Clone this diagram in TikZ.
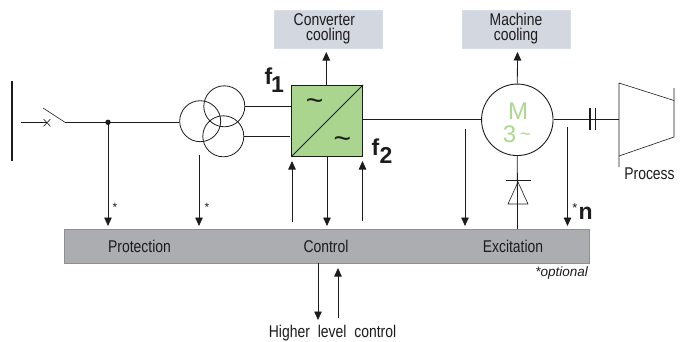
\documentclass[tikz,border=0pt]{standalone}
\usepackage{fontspec}
\setmainfont[FakeStretch=0.82]{Liberation Sans}
\newfontfamily\plainsans{Liberation Sans}
\usetikzlibrary{arrows.meta}
\definecolor{boxgrey}{HTML}{ABADB1}
\definecolor{boxedge}{HTML}{8E9094}
\definecolor{coolgrey}{HTML}{D2D7E0}
\definecolor{convgreen}{HTML}{A9D58F}
\definecolor{motorgreen}{HTML}{ABD892}
\definecolor{ink}{HTML}{1C1C1C}
\tikzset{
  x=1pt,y=-1pt,
  wire/.style={draw=ink,line width=0.8pt},
  sig/.style={wire,-{Triangle[width=7.5pt,length=8.5pt]}},
  txtlabel/.style={text=ink,font=\fontsize{17}{17}\selectfont,inner sep=0pt},
  big/.style={text=ink,font=\plainsans\bfseries\fontsize{23}{23}\selectfont,inner sep=0pt},
  star/.style={text=ink,font=\plainsans\fontsize{12}{12}\selectfont,inner sep=0pt},
  tilde/.style={text=ink,font=\plainsans\fontsize{30}{30}\selectfont,inner sep=0pt},
  coolbox/.style={draw=coolgrey!85!white,fill=coolgrey,line width=0.5pt,minimum height=38pt,inner sep=0pt,align=center,text=ink,
     font=\fontsize{17}{15}\selectfont},
  trafo/.style={circle,draw=ink,line width=0.8pt,minimum size=41pt,inner sep=0pt},
}
\begin{document}
\begin{tikzpicture}
\useasboundingbox (0,0) rectangle (681,341);
% named points
\coordinate (busT) at (12,81);
\coordinate (busB) at (12,161);
\coordinate (feedIn) at (21,122.3);
\coordinate (swA) at (47,122.3);
\coordinate (bladeT) at (43,108);
\coordinate (swB) at (65,122.3);
\coordinate (cr1) at (43.5,119);
\coordinate (cr2) at (50.5,126.5);
\coordinate (cr3) at (43.5,126.5);
\coordinate (cr4) at (50.5,119);
\coordinate (tap) at (108,122.3);
\coordinate (tapEnd) at (108,226);
\coordinate (t2S) at (199,155);
\coordinate (t2E) at (199,226);
% bars and boxes
\node[draw=boxedge,fill=boxgrey,line width=1pt,minimum width=525pt,minimum height=34pt,inner sep=0pt] (bar) at (326.5,246) {};
\node[coolbox,minimum width=108pt] (cc) at (328.3,29) {Converter\hspace*{8pt}\\cooling};
\node[coolbox,minimum width=108pt] (mc) at (516,29) {Machine\\cooling};
\node[draw=ink,fill=convgreen,line width=0.9pt,minimum size=71pt,inner sep=0pt] (conv) at (327.3,120.7) {};
\draw[wire] (conv.south west) -- (conv.north east);
\node[tilde] (t1) at (314.7,105) {\char"7E};
\node[tilde] (t2) at (342.5,143) {\char"7E};
% motor
\node[circle,draw=ink,line width=0.9pt,minimum size=71.5pt,inner sep=0pt,fill=white] (mot) at (517.3,119.8) {};
\node[text=motorgreen,font=\plainsans\fontsize{24}{24}\selectfont,inner sep=0pt] (mM) at (518,111.5) {M};
\node[text=motorgreen,font=\plainsans\fontsize{24}{24}\selectfont,inner sep=0pt] (m3) at (509.5,134.5) {3};
\node[text=motorgreen,font=\plainsans\fontsize{19}{19}\selectfont,inner sep=0pt] (mt) at (525.5,137) {\char"7E};
% transformer
\node[trafo] (tl) at (200.2,121.2) {};
\node[trafo] (tt) at (224.3,106.3) {};
\node[trafo] (tb) at (223.3,136.3) {};
% busbar and switch
\draw[draw=ink,line width=1.6pt] (busT) -- (busB);
\draw[wire] (feedIn) -- (swA);
\draw[wire,line width=0.6pt] (cr1) -- (cr2) (cr3) -- (cr4);
\draw[wire,line width=0.6pt] (bladeT) -- (swB);
\draw[wire] (swB) -- (tl.west |- swB);
\fill[ink] (tap) circle (2.7pt);
\draw[sig] (tap) -- (tapEnd);
\draw[sig] (t2S) -- (t2E);
\node[star] (s1) at (115,207.7) {*};
\node[star] (s2) at (207,207.7) {*};
% transformer to converter
\coordinate (c1) at (292,106.3);
\coordinate (c2) at (290,136.3);
\draw[wire] (tt.east) -- (c1);
\draw[wire] (tb.east) -- (c2);
\node[big,anchor=base west] (f1) at (264.5,84) {f};
\node[big,anchor=base west] (f1s) at (271,92) {1};
\node[big,anchor=base west] (f2) at (371.5,155) {f};
\node[big,anchor=base west] (f2s) at (379.5,163) {2};
% converter connections
\coordinate (cutop) at (326.3,52);
\draw[sig] (conv.north -| cutop) -- (cutop);
\coordinate (cu1s) at (292,222);
\coordinate (cu1e) at (292,161);
\coordinate (cds) at (327,157);
\coordinate (cde) at (327,226);
\coordinate (cu2s) at (362.5,221);
\coordinate (cu2e) at (362.5,161);
\draw[sig] (cu1s) -- (cu1e);
\draw[sig] (cds) -- (cde);
\draw[sig] (cu2s) -- (cu2e);
\draw[wire] (mot.west -| conv.east) -- (mot.west);
% motor connections
\coordinate (motop) at (517.5,52);
\draw[sig] (mot.north) -- (motop);
\coordinate (i1s) at (465,129);
\coordinate (i1e) at (465,226);
\coordinate (nS) at (567.5,127);
\coordinate (nE) at (567.5,226);
\draw[sig] (i1s) -- (i1e);
\draw[sig] (nS) -- (nE);
\node[star,font=\plainsans\fontsize{13}{13}\selectfont] (s3) at (575,207.7) {*};
\node[text=ink,font=\plainsans\bfseries\fontsize{23}{23}\selectfont,inner sep=0pt,anchor=base west] (nn) at (578.5,219) {n};
% diode
\coordinate (dBot) at (517.5,229);
\coordinate (dbL) at (506,180);
\coordinate (dbR) at (531,180);
\draw[wire] (mot.south) -- (dBot);
\draw[wire,line width=0.7pt] (dbL) -- (dbR);
\coordinate (dA) at (518,182);
\coordinate (dC) at (508,204);
\coordinate (dD) at (528,204);
\draw[wire,line width=0.6pt] (dA) -- (dC) -- (dD) -- cycle;
% shaft and process
\coordinate (pL) at (619,119.8);
\draw[wire] (mot.east) -- (pL);
\coordinate (ca1) at (590,108);
\coordinate (ca2) at (590,130);
\coordinate (cb1) at (595.5,108);
\coordinate (cb2) at (595.5,130);
\draw[wire,line width=1.2pt] (ca1) -- (ca2) (cb1) -- (cb2);
\coordinate (pa) at (619,83);
\coordinate (pb) at (619,167);
\coordinate (pc) at (674,100.5);
\coordinate (pd) at (674,137);
\coordinate (pe) at (619,156);
\coordinate (pf) at (674,88);
\draw[wire,line width=0.6pt] (pb) -- (pa) -- (pc);
\draw[wire,line width=0.6pt] (pf) -- (pd) -- (pe);
\node[txtlabel] (proc) at (649.5,174) {Process};
% bar labels
\node[txtlabel] (prot) at (139.5,246) {Protection};
\node[txtlabel] (ctrl) at (326,246) {Control};
\node[txtlabel] (exc) at (513,246) {Excitation};
\node[text=ink,font=\plainsans\itshape\fontsize{13.5}{13.5}\selectfont,inner sep=0pt,anchor=east] (opt) at (588,273) {*optional};
% higher level
\coordinate (h1s) at (318,263);
\coordinate (h1e) at (318,320);
\coordinate (h2s) at (338,318);
\coordinate (h2e) at (338,268);
\draw[sig] (h1s) -- (h1e);
\draw[sig] (h2s) -- (h2e);
\node[txtlabel] (hl) at (332.5,333) {Higher\hspace{4pt} level\hspace{4pt} control};
\end{tikzpicture}
\end{document}
